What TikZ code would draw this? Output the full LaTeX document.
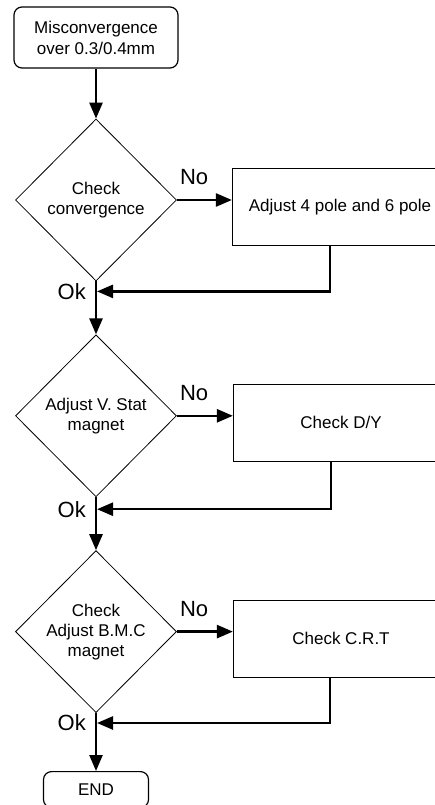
\documentclass[tikz,border=0pt]{standalone}
\usepackage{fontspec}
\setmainfont{Liberation Sans}
\usetikzlibrary{arrows.meta,positioning,shapes.geometric}

\begin{document}
\begin{tikzpicture}[
  x=1pt, y=1pt, >={Triangle[length=16pt,width=13pt]},
  term/.style={rectangle, rounded corners=8pt, draw, line width=1.2pt, align=center, font=\fontsize{17}{21}\selectfont},
  decide/.style={diamond, draw, line width=0.8pt, inner sep=0pt, minimum width=161pt, minimum height=162pt, align=center, font=\fontsize{17}{20}\selectfont},
  work/.style={rectangle, draw, line width=1.2pt, minimum width=215pt, minimum height=77pt, font=\fontsize{17}{21}\selectfont},
  flow/.style={->, line width=2.5pt},
  tag/.style={font=\fontsize{22}{24}\selectfont, inner sep=2pt},
]
  \useasboundingbox (0,0) rectangle (435,-805);

  % main column
  \node[term, minimum width=164pt, minimum height=61pt] (start) at (96,-37.5) {Misconvergence\\over 0.3/0.4mm};
  \node[decide, below=50pt of start] (d1) {Check\\convergence};
  \node[decide, below=53pt of d1] (d2) {Adjust V. Stat\\magnet};
  \node[decide, below=53pt of d2] (d3) {Check\\Adjust B.M.C\\magnet};
  \node[term, minimum width=105pt, minimum height=36pt, below=58pt of d3] (stop) {END};

  % side boxes
  \node[work, right=55pt of d1.east, anchor=west, yshift=-7pt] (b1) {Adjust 4 pole and 6 pole};
  \node[work, right=56pt of d2.east, anchor=west, yshift=-7pt] (b2) {Check D/Y};
  \node[work, right=56pt of d3.east, anchor=west, yshift=-7pt] (b3) {Check C.R.T};

  % return points
  \coordinate[below=10pt of d1.south] (j1);
  \coordinate[below=12pt of d2.south] (j2);
  \coordinate[below=10pt of d3.south] (j3);

  \draw[flow] (start) -- (d1);
  \draw[flow] (d1) -- (d2);
  \draw[flow] (d2) -- (d3);
  \draw[flow] (d3) -- (stop);

  \draw[flow] (d1.east) -- (d1.east -| b1.west);
  \draw[flow] (d2.east) -- (d2.east -| b2.west);
  \draw[flow] (d3.east) -- (d3.east -| b3.west);

  \draw[flow, shorten >=1pt] ([xshift=-10pt]b1.south) |- (j1);
  \draw[flow, shorten >=1pt] ([xshift=-10pt]b2.south) |- (j2);
  \draw[flow, shorten >=1pt] ([xshift=-11pt]b3.south) |- (j3);

  \node[tag, above right=13pt and 1pt of d1.east] (no1) {No};
  \node[tag, above right=13pt and 1pt of d2.east] (no2) {No};
  \node[tag, above right=13pt and 1pt of d3.east] (no3) {No};
  \node[tag, left=8pt of j1] (ok1) {Ok};
  \node[tag, left=8pt of j2] (ok2) {Ok};
  \node[tag, left=8pt of j3] (ok3) {Ok};
\end{tikzpicture}
\end{document}
